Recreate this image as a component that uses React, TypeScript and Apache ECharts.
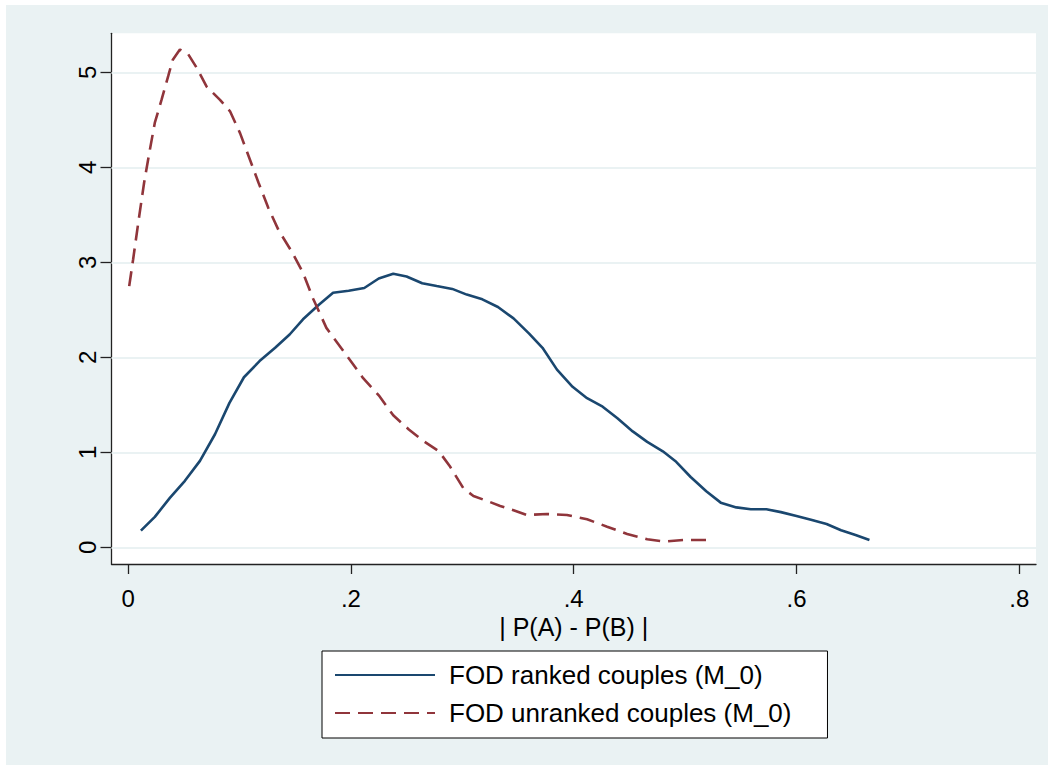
import React, { useEffect, useRef } from "react";
import * as echarts from "echarts";

// ---- data ----
const rankedX = [0.0115, 0.024, 0.0375, 0.051, 0.0645, 0.078, 0.091, 0.104, 0.118, 0.132, 0.145, 0.157, 0.171, 0.184, 0.198, 0.212, 0.225, 0.238, 0.25, 0.264, 0.277, 0.291, 0.304, 0.318, 0.332, 0.346, 0.36, 0.372, 0.385, 0.399, 0.412, 0.426, 0.439, 0.453, 0.466, 0.48, 0.492, 0.505, 0.519, 0.532, 0.546, 0.559, 0.573, 0.586, 0.6, 0.613, 0.627, 0.64, 0.653, 0.6655];
const rankedY = [0.175, 0.32, 0.52, 0.7, 0.91, 1.19, 1.52, 1.79, 1.96, 2.1, 2.24, 2.4, 2.55, 2.68, 2.7, 2.73, 2.83, 2.88, 2.85, 2.78, 2.75, 2.72, 2.66, 2.61, 2.53, 2.41, 2.25, 2.1, 1.87, 1.69, 1.57, 1.48, 1.36, 1.22, 1.11, 1.01, 0.9, 0.74, 0.59, 0.47, 0.42, 0.4, 0.4, 0.37, 0.33, 0.29, 0.245, 0.18, 0.13, 0.077];

const unrankedX = [0.001, 0.0045, 0.0099, 0.0144, 0.019, 0.024, 0.03, 0.036, 0.04, 0.0465, 0.054, 0.0615, 0.0705, 0.0825, 0.0915, 0.1005, 0.1094, 0.117, 0.126, 0.135, 0.147, 0.157, 0.166, 0.178, 0.198, 0.211, 0.225, 0.238, 0.252, 0.265, 0.279, 0.289, 0.301, 0.31, 0.324, 0.334, 0.346, 0.358, 0.376, 0.394, 0.412, 0.43, 0.448, 0.466, 0.481, 0.499, 0.52];
const unrankedY = [2.75, 3.03, 3.48, 3.84, 4.15, 4.47, 4.71, 4.96, 5.13, 5.24, 5.19, 5.05, 4.85, 4.71, 4.59, 4.36, 4.08, 3.84, 3.57, 3.34, 3.11, 2.89, 2.62, 2.31, 1.99, 1.78, 1.6, 1.39, 1.24, 1.12, 1.01, 0.85, 0.62, 0.54, 0.48, 0.435, 0.39, 0.34, 0.35, 0.34, 0.295, 0.217, 0.14, 0.084, 0.06, 0.077, 0.077];

const xTicks = [0, 0.2, 0.4, 0.6, 0.8];
const xTickLabels = ["0", ".2", ".4", ".6", ".8"];
const yTicks = [0, 1, 2, 3, 4, 5];

const seriesNames = ["FOD ranked couples (M_0)", "FOD unranked couples (M_0)"];
const xTitle = "| P(A) - P(B) |";

const zip = (xs: number[], ys: number[]) => xs.map((x, i) => [x, ys[i]]);

export default function App() {
  const ref = useRef<HTMLDivElement>(null);
  useEffect(() => {
    if (!ref.current) return;
    const chart = echarts.init(ref.current, undefined, { renderer: "svg" });
    const font = "'Liberation Sans', Arial, sans-serif";
    chart.setOption({
      animation: false,
      backgroundColor: "transparent",
      textStyle: { fontFamily: font },
      grid: {
        left: 111.5,
        top: 33.3,
        right: 15,
        bottom: 205,
        show: true,
        backgroundColor: "#ffffff",
        borderWidth: 0,
        containLabel: false,
        outerBoundsMode: "none",
      },
      xAxis: {
        type: "value",
        min: -0.0149,
        max: 0.815,
        name: xTitle,
        nameLocation: "middle",
        nameGap: 49,
        nameTextStyle: { fontSize: 25, color: "#000", fontFamily: font },
        axisLine: { show: true, onZero: false, lineStyle: { color: "#222", width: 1.3 } },
        axisTick: { show: true, length: 10, customValues: xTicks, lineStyle: { color: "#222", width: 1.3 } },
        axisLabel: {
          customValues: xTicks,
          margin: 22,
          fontSize: 24,
          color: "#000",
          fontFamily: font,
          formatter: (v: number) => {
            const i = xTicks.findIndex((t) => Math.abs(t - v) < 1e-6);
            return i >= 0 ? xTickLabels[i] : "";
          },
        },
        splitLine: { show: false },
      },
      yAxis: {
        type: "value",
        min: -0.176,
        max: 5.411,
        axisLine: { show: true, onZero: false, lineStyle: { color: "#222", width: 1.3 } },
        axisTick: { show: true, length: 11, customValues: yTicks, lineStyle: { color: "#222", width: 1.3 } },
        axisLabel: {
          customValues: yTicks,
          rotate: 90,
          margin: 12,
          fontSize: 24,
          color: "#000",
          fontFamily: font,
          formatter: (v: number) => String(Math.round(v)),
        },
        splitLine: { show: false },
      },
      legend: {
        orient: "vertical",
        left: 322,
        top: 651,
        padding: [11, 36, 12, 12],
        itemGap: 12,
        itemWidth: 100,
        itemHeight: 14,
        backgroundColor: "#ffffff",
        borderColor: "#000",
        borderWidth: 1,
        borderRadius: 0,
        itemStyle: { opacity: 0, borderWidth: 0 },
        textStyle: { fontSize: 26, color: "#000", fontFamily: font, padding: [0, 0, 0, 9] },
        data: seriesNames,
      },
      series: [
        {
          name: seriesNames[0],
          type: "line",
          data: zip(rankedX, rankedY),
          symbol: "none",
          showSymbol: false,
          lineStyle: { color: "#1A476F", width: 2.6 },
          itemStyle: { color: "#1A476F" },
          z: 3,
          markLine: {
            silent: true,
            symbol: ["none", "none"],
            z: 1,
            label: { show: false },
            lineStyle: { color: "#EAF2F3", width: 2.2, type: "solid" },
            emphasis: { disabled: true },
            data: yTicks.map((t) => ({ yAxis: t })),
          },
        },
        {
          name: seriesNames[1],
          type: "line",
          data: zip(unrankedX, unrankedY),
          symbol: "none",
          showSymbol: false,
          lineStyle: { color: "#90353B", width: 2.6, type: [15, 8] },
          itemStyle: { color: "#90353B" },
          z: 3,
        },
      ],
    });
    return () => chart.dispose();
  }, []);

  return (
    <div style={{ position: "fixed", left: 0, top: 0, width: 1051, height: 769, background: "#ffffff" }}>
      <div style={{ position: "absolute", left: 6, top: 5, width: 1042, height: 760, background: "#EAF2F3" }} />
      <div ref={ref} style={{ position: "absolute", left: 0, top: 0, width: 1051, height: 769 }} />
    </div>
  );
}
